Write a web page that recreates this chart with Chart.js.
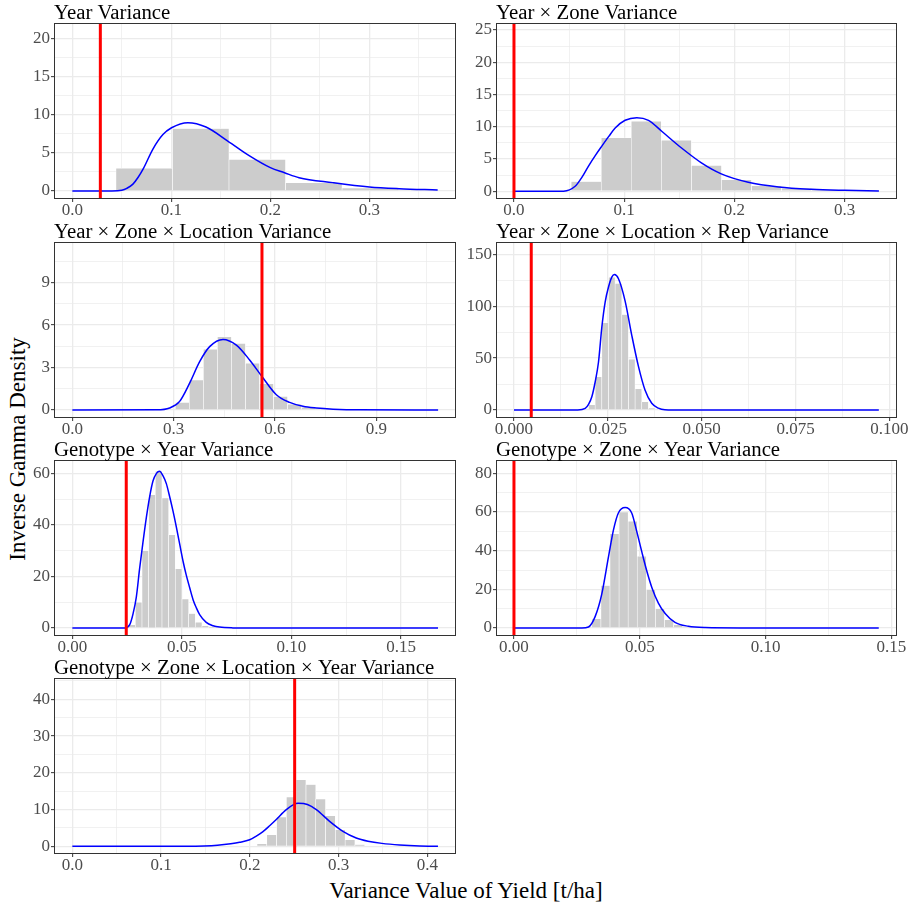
<!DOCTYPE html>
<html>
<head>
<meta charset="utf-8">
<script src="https://cdn.jsdelivr.net/npm/chart.js@4.4.1/dist/chart.umd.min.js"></script>
<style>
  body { margin: 0; background: #fff; }
  #wrap { position: relative; width: 913px; height: 906px; overflow: hidden; font-family: "Liberation Serif", serif; }
  #wrap canvas { position: absolute; }
  #ytitle { position: absolute; left: 17px; top: 449px; transform: translate(-50%, -50%) rotate(-90deg); font-size: 23px; line-height: 1; white-space: nowrap; color: #000; }
  #xtitle { position: absolute; left: 466px; top: 879px; transform: translateX(-50%); font-size: 23px; line-height: 1; white-space: nowrap; color: #000; }
</style>
</head>
<body>
<div id="wrap">
  <div id="ytitle">Inverse Gamma Density</div>
  <div id="xtitle">Variance Value of Yield [t/ha]</div>
</div>
<script>
const titles = [
  'Year Variance',
  'Year × Zone Variance',
  'Year × Zone × Location Variance',
  'Year × Zone × Location × Rep Variance',
  'Genotype × Year Variance',
  'Genotype × Zone × Year Variance',
  'Genotype × Zone × Location × Year Variance'
];

// histogram bins: mid points and densities
const mid1 = [0.0726, 0.1297, 0.1868, 0.2439, 0.3010];
const hist1 = [3.0, 8.2, 4.15, 1.1, 0.4];
const mid2 = [0.0655, 0.0928, 0.1200, 0.1473, 0.1746, 0.2018, 0.2291, 0.2564, 0.2836];
const hist2 = [1.5, 8.3, 10.85, 7.9, 4.0, 1.8, 0.85, 0.45, 0.2];
const mid3 = [0.3257, 0.3672, 0.4088, 0.4503, 0.4918, 0.5334, 0.5749, 0.6165, 0.6580, 0.6995, 0.7411];
const hist3 = [0.54, 2.13, 4.3, 5.18, 4.71, 3.3, 1.85, 0.96, 0.4, 0.2, 0.06];
const mid4 = [0.02074, 0.02251, 0.02429, 0.02606, 0.02784, 0.02961, 0.03138, 0.03316, 0.03493, 0.0367];
const hist4 = [5, 32, 84, 128, 122, 92, 49, 20.5, 8, 2];
const mid5 = [0.02723, 0.03027, 0.03331, 0.03636, 0.0394, 0.04244, 0.04548, 0.04852, 0.05157, 0.05461, 0.05765, 0.06069, 0.06373];
const hist5 = [1.3, 10, 30, 51.7, 60.8, 50.4, 36.2, 23, 11.3, 5.6, 2.2, 0.9, 0.4];
const mid6 = [0.03276, 0.03637, 0.03998, 0.04359, 0.0472, 0.05081, 0.05442, 0.05803, 0.06164, 0.06525, 0.06886];
const hist6 = [4.8, 22, 48.8, 60, 55.2, 37.1, 19.8, 10, 4.3, 1.7, 0.5];
const mid7 = [0.2136, 0.2246, 0.2357, 0.2467, 0.2577, 0.2688, 0.2798, 0.2908, 0.3019, 0.3129, 0.3239];
const hist7 = [0.73, 3.17, 8.0, 13.4, 18.1, 16.8, 12.9, 8.3, 4.5, 1.8, 0.45];

// inverse gamma density curves
const curveX1 = [0, 0.04, 0.05, 0.055, 0.0612, 0.0665, 0.072, 0.0814, 0.0915, 0.1002, 0.1167, 0.135, 0.157, 0.179, 0.2, 0.2143, 0.229, 0.263, 0.3, 0.33, 0.369];
const curveY1 = [0, 0, 0.1, 0.35, 0.9, 1.8, 3.0, 5.5, 7.4, 8.3, 8.97, 8.4, 6.56, 4.6, 3.06, 2.4, 1.75, 1.1, 0.53, 0.3, 0.13];
const curveX2 = [0, 0.045, 0.0555, 0.061, 0.0676, 0.074, 0.0797, 0.086, 0.0918, 0.1008, 0.1114, 0.122, 0.134, 0.152, 0.170, 0.188, 0.2125, 0.24, 0.27, 0.3, 0.331];
const curveY2 = [0, 0.02, 0.77, 2.0, 3.9, 5.6, 7.0, 8.5, 9.8, 11.0, 11.4, 11.0, 9.3, 6.7, 4.4, 2.7, 1.4, 0.67, 0.31, 0.15, 0.05];
const curveX3 = [0, 0.25, 0.2881, 0.3177, 0.3473, 0.377, 0.4066, 0.4461, 0.4856, 0.525, 0.5615, 0.604, 0.6434, 0.6829, 0.7224, 0.772, 0.85, 1.083];
const curveY3 = [0, 0.01, 0.14, 0.61, 1.9, 3.42, 4.48, 4.99, 4.59, 3.54, 2.37, 1.08, 0.54, 0.26, 0.14, 0.06, 0.01, 0];
const curveX4 = [0, 0.017, 0.01897, 0.01986, 0.02074, 0.02163, 0.02251, 0.02341, 0.02429, 0.02518, 0.02606, 0.02677, 0.02784, 0.02961, 0.03138, 0.03316, 0.03493, 0.0367, 0.03847, 0.0402, 0.045, 0.0972];
const curveY4 = [0, 0, 1.5, 5.4, 12.8, 27, 46, 80, 104, 118.5, 128, 130.5, 126.5, 105, 72, 42, 19, 6.5, 1.8, 0.3, 0, 0];
const curveX5 = [0, 0.024, 0.0262, 0.0277, 0.0292, 0.0307, 0.0322, 0.0338, 0.0353, 0.0368, 0.0384, 0.0398, 0.0414, 0.0429, 0.0444, 0.0459, 0.0475, 0.049, 0.0505, 0.052, 0.0536, 0.0551, 0.0566, 0.0581, 0.0611, 0.0642, 0.0672, 0.0733, 0.08, 0.1669];
const curveY5 = [0, 0.05, 1.3, 5.5, 12, 23, 33, 43, 51, 57, 60, 60.8, 59, 56, 51, 45.5, 39, 32.5, 26, 20.5, 15.5, 11, 7.8, 5.2, 2.2, 0.9, 0.35, 0.05, 0, 0];
const curveX6 = [0, 0.027, 0.0296, 0.0323, 0.0349, 0.0376, 0.0396, 0.0415, 0.0442, 0.0468, 0.0488, 0.0508, 0.0528, 0.0548, 0.0574, 0.0601, 0.064, 0.0693, 0.076, 0.09, 0.145];
const curveY6 = [0, 0, 0.5, 6, 17.5, 37, 51, 59.5, 62.3, 59.5, 50, 39.5, 29.5, 21, 12.9, 7.5, 2.9, 0.9, 0.2, 0, 0];
const curveX7 = [0, 0.13, 0.1485, 0.1635, 0.1785, 0.1885, 0.1998, 0.2073, 0.2148, 0.2223, 0.2298, 0.2411, 0.2543, 0.2649, 0.2749, 0.2899, 0.3049, 0.3199, 0.3331, 0.3488, 0.3688, 0.3914, 0.412];
const curveY7 = [0, 0.01, 0.1, 0.3, 0.7, 1.1, 1.8, 2.8, 4.0, 5.6, 7.3, 10.0, 11.7, 11.4, 10.0, 6.8, 4.08, 2.27, 1.4, 0.8, 0.36, 0.1, 0.03];

// red reference line per panel
const refValues = [0.0283, 0, 0.5615, 0.0046, 0.0246, 0, 0.2505];

// tick labels
const xLabels1 = ['0.0', '0.1', '0.2', '0.3'];
const xLabels2 = ['0.0', '0.1', '0.2', '0.3'];
const xLabels3 = ['0.0', '0.3', '0.6', '0.9'];
const xLabels4 = ['0.000', '0.025', '0.050', '0.075', '0.100'];
const xLabels5 = ['0.00', '0.05', '0.10', '0.15'];
const xLabels6 = ['0.00', '0.05', '0.10', '0.15'];
const xLabels7 = ['0.0', '0.1', '0.2', '0.3', '0.4'];
const yLabels1 = ['0', '5', '10', '15', '20'];
const yLabels2 = ['0', '5', '10', '15', '20', '25'];
const yLabels3 = ['0', '3', '6', '9'];
const yLabels4 = ['0', '50', '100', '150'];
const yLabels5 = ['0', '20', '40', '60'];
const yLabels6 = ['0', '20', '40', '60', '80'];
const yLabels7 = ['0', '10', '20', '30', '40'];

// axis limits (incl. the 5% expansion)
const xLim = [[-0.0185, 0.3875], [-0.0163, 0.3474], [-0.0543, 1.136], [-0.00479, 0.10204], [-0.00837, 0.1751], [-0.00714, 0.15225], [-0.02066, 0.4323]];
const yLim = [[-1.05, 22.05], [-1.2, 26.08], [-0.566, 11.88], [-7.7, 161.9], [-3.1, 65.17], [-4.14, 86.9], [-2.09, 45.8]];

const panels = [
  {mid: mid1, hist: hist1, cx: curveX1, cy: curveY1, xl: xLabels1, yl: yLabels1},
  {mid: mid2, hist: hist2, cx: curveX2, cy: curveY2, xl: xLabels2, yl: yLabels2},
  {mid: mid3, hist: hist3, cx: curveX3, cy: curveY3, xl: xLabels3, yl: yLabels3},
  {mid: mid4, hist: hist4, cx: curveX4, cy: curveY4, xl: xLabels4, yl: yLabels4},
  {mid: mid5, hist: hist5, cx: curveX5, cy: curveY5, xl: xLabels5, yl: yLabels5},
  {mid: mid6, hist: hist6, cx: curveX6, cy: curveY6, xl: xLabels6, yl: yLabels6},
  {mid: mid7, hist: hist7, cx: curveX7, cy: curveY7, xl: xLabels7, yl: yLabels7}
];

const cols = [{left: 0, w: 460, yW: 54, rPad: 4}, {left: 458, w: 455, yW: 38, rPad: 16}];
const rowTops = [23, 242, 460, 678];
const TITLE_H = 23, XAXIS_H = 24, BOX_H = 176;

// major ticks + half-way minor grid lines
function buildTicks(labels, lim) {
  const vals = labels.map(Number);
  const step = vals[1] - vals[0];
  const out = vals.map((v, i) => ({value: v, lab: labels[i]}));
  for (let i = -1; i < vals.length; i++) {
    const m = i < 0 ? vals[0] - step / 2 : vals[i] + step / 2;
    if (m > lim[0] && m < lim[1]) out.push({value: m, lab: '', minor: true});
  }
  return out.sort((a, b) => a.value - b.value);
}

const panelDeco = {
  id: 'panelDeco',
  afterDraw(chart, args, opts) {
    const {ctx, chartArea: a} = chart;
    ctx.save();
    ctx.strokeStyle = '#333333';
    ctx.lineWidth = 1;
    ctx.strokeRect(a.left + 0.5, a.top + 0.5, a.right - a.left - 1, a.bottom - a.top - 1);
    ctx.fillStyle = '#000';
    ctx.font = '20.8px "Liberation Serif"';
    ctx.textBaseline = 'alphabetic';
    ctx.fillText(opts.title, a.left, a.top - 4);
    ctx.restore();
  }
};

const gridOpts = {
  color: '#EBEBEB',
  lineWidth: c => (c.tick && c.tick.minor) ? 0.7 : 1.3,
  drawTicks: true,
  tickLength: 3,
  tickWidth: 1,
  tickColor: c => (c.tick && c.tick.minor) ? 'rgba(0,0,0,0)' : '#333333'
};
const tickFont = {family: 'Liberation Serif', size: 17};

const wrap = document.getElementById('wrap');
panels.forEach((p, k) => {
  const col = cols[k % 2];
  const cv = document.createElement('canvas');
  cv.width = col.w;
  cv.height = TITLE_H + BOX_H + XAXIS_H;
  cv.style.left = col.left + 'px';
  cv.style.top = (rowTops[Math.floor(k / 2)] - TITLE_H) + 'px';
  wrap.appendChild(cv);

  const xt = buildTicks(p.xl, xLim[k]);
  const yt = buildTicks(p.yl, yLim[k]);

  const chart = new Chart(cv, {
    type: 'bar',
    data: {
      datasets: [
        {
          type: 'line',
          data: [{x: refValues[k], y: yLim[k][0]}, {x: refValues[k], y: yLim[k][1]}],
          borderColor: '#FF0000', borderWidth: 3, pointRadius: 0, clip: 0, order: 0
        },
        {
          type: 'line',
          data: p.cx.map((x, i) => ({x: x, y: p.cy[i]})),
          borderColor: '#0000FF', borderWidth: 1.5, pointRadius: 0,
          cubicInterpolationMode: 'monotone', fill: false, order: 1
        },
        {
          type: 'bar',
          data: p.mid.map((x, i) => ({x: x, y: p.hist[i]})),
          backgroundColor: '#CCCCCC', borderColor: '#FFFFFF', borderWidth: 0.6,
          categoryPercentage: 1, barPercentage: 1, order: 2
        }
      ]
    },
    options: {
      responsive: false,
      animation: false,
      events: [],
      layout: {padding: {top: TITLE_H, right: col.rPad, left: 0, bottom: 0}},
      plugins: {legend: {display: false}, tooltip: {enabled: false}, panelDeco: {title: titles[k]}},
      scales: {
        x: {
          type: 'linear', min: xLim[k][0], max: xLim[k][1], bounds: 'data', offset: false,
          border: {display: false},
          grid: Object.assign({offset: false}, gridOpts),
          afterBuildTicks: s => { s.ticks = xt.map(t => Object.assign({}, t)); },
          afterFit: s => { s.height = XAXIS_H; },
          ticks: {
            autoSkip: false, maxRotation: 0, padding: -2, color: '#4D4D4D', font: tickFont,
            callback: (v, i, t) => t[i].lab
          }
        },
        y: {
          type: 'linear', min: yLim[k][0], max: yLim[k][1], bounds: 'data',
          border: {display: false},
          grid: gridOpts,
          afterBuildTicks: s => { s.ticks = yt.map(t => Object.assign({}, t)); },
          afterFit: s => { s.width = col.yW; },
          ticks: {
            autoSkip: false, padding: 1, color: '#4D4D4D', font: tickFont,
            callback: (v, i, t) => t[i].lab
          }
        }
      }
    },
    plugins: [panelDeco]
  });

  // bars as wide as one bin, measured through the x scale
  const xs = chart.scales.x;
  const binW = (p.mid[p.mid.length - 1] - p.mid[0]) / (p.mid.length - 1);
  chart.data.datasets[2].barThickness = xs.getPixelForValue(p.mid[0] + binW) - xs.getPixelForValue(p.mid[0]);
  chart.update('none');
});
</script>
</body>
</html>
